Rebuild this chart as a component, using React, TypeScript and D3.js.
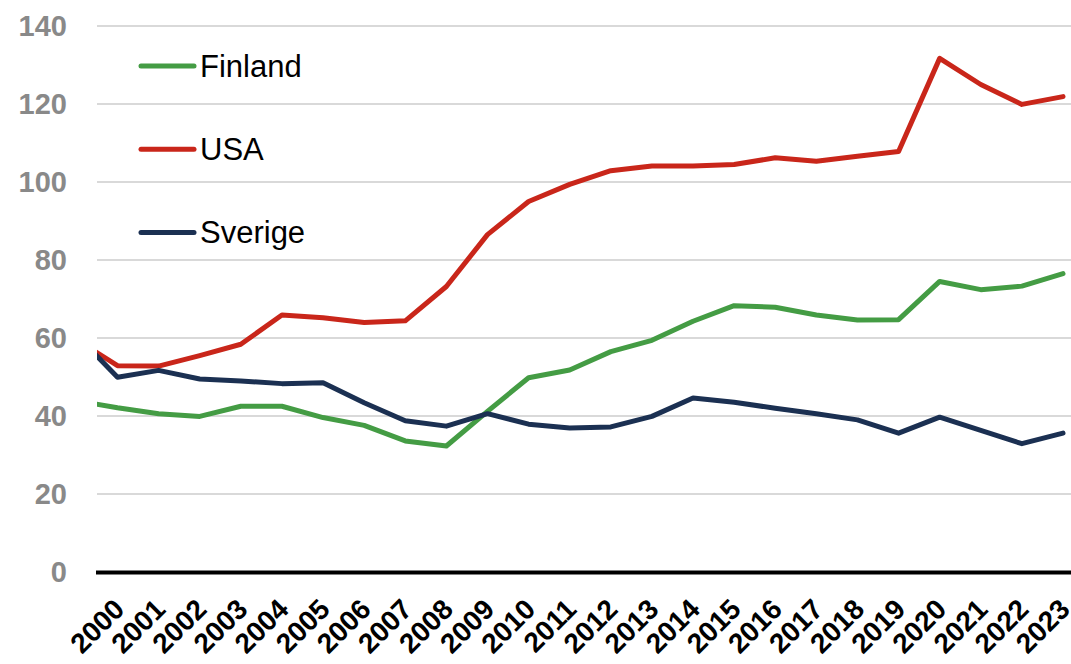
import React from "react";
import * as d3 from "d3";

// Data (1999 is only partially visible: clipped at the plot's left edge)
const years = [1999, 2000, 2001, 2002, 2003, 2004, 2005, 2006, 2007, 2008, 2009, 2010, 2011, 2012, 2013, 2014, 2015, 2016, 2017, 2018, 2019, 2020, 2021, 2022, 2023];
const tickYears = [2000, 2001, 2002, 2003, 2004, 2005, 2006, 2007, 2008, 2009, 2010, 2011, 2012, 2013, 2014, 2015, 2016, 2017, 2018, 2019, 2020, 2021, 2022, 2023];
const finland = [43.9, 42.1, 40.6, 39.9, 42.5, 42.5, 39.6, 37.6, 33.6, 32.3, 41.2, 49.8, 51.8, 56.5, 59.4, 64.3, 68.3, 67.9, 65.9, 64.6, 64.7, 74.5, 72.4, 73.3, 76.5];
const usa = [59.6, 52.9, 52.8, 55.5, 58.4, 65.9, 65.2, 64.0, 64.4, 73.2, 86.5, 95.0, 99.4, 102.9, 104.1, 104.1, 104.5, 106.2, 105.3, 106.6, 107.8, 131.7, 125.0, 119.9, 121.9];
const sverige = [60.8, 49.95, 51.7, 49.5, 49.0, 48.3, 48.5, 43.4, 38.8, 37.4, 40.6, 37.9, 36.9, 37.2, 39.9, 44.6, 43.5, 42.0, 40.6, 39.0, 35.6, 39.7, 36.3, 32.9, 35.6];
const yTicks = [0, 20, 40, 60, 80, 100, 120, 140];

const seriesNames = ["Finland", "USA", "Sverige"];
const seriesValues = [finland, usa, sverige];
const seriesColors = ["#449c44", "#c9261a", "#1b3052"];

const W = 1071;
const H = 664;
const plotLeft = 97;
const plotRight = 1071;

export default function App() {
  const x = d3.scaleLinear().domain([2000, 2023]).range([117.5, 1063]);
  const y = d3.scaleLinear().domain([0, 140]).range([572, 26]);

  const line = d3
    .line<number>()
    .x((_, i) => x(years[i]))
    .y((d) => y(d));

  const font = "'Liberation Sans', Arial, sans-serif";

  return (
    <svg
      width={W}
      height={H}
      style={{ position: "absolute", left: 0, top: 0, background: "#fff" }}
      fontFamily={font}
    >
      <defs>
        <clipPath id="plotClip">
          <rect x={plotLeft} y={0} width={plotRight - plotLeft} height={H} />
        </clipPath>
      </defs>

      {/* gridlines */}
      {yTicks.filter((t) => t > 0).map((t) => (
        <line
          key={"g" + t}
          x1={plotLeft}
          x2={plotRight}
          y1={y(t)}
          y2={y(t)}
          stroke="#d9d9d9"
          strokeWidth={2}
        />
      ))}

      {/* y tick labels */}
      {yTicks.map((t) => (
        <text
          key={"yt" + t}
          x={67}
          y={y(t)}
          dy="0.36em"
          textAnchor="end"
          fontSize={29}
          fontWeight="bold"
          fill="#898989"
        >
          {t}
        </text>
      ))}

      {/* series lines */}
      <g clipPath="url(#plotClip)">
        {seriesValues.map((vals, k) => (
          <path
            key={"s" + k}
            d={line(vals) || ""}
            fill="none"
            stroke={seriesColors[k]}
            strokeWidth={5}
            strokeLinejoin="round"
            strokeLinecap="round"
          />
        ))}
      </g>

      {/* x axis line */}
      <line x1={96} x2={1071} y1={y(0) + 0.5} y2={y(0) + 0.5} stroke="#000" strokeWidth={4} />

      {/* x tick labels */}
      {tickYears.map((yr) => (
        <text
          key={"xt" + yr}
          transform={`translate(${x(yr) + 1.5},${604}) rotate(-45)`}
          dy="0.35em"
          textAnchor="end"
          fontSize={28}
          fontWeight="bold"
          fill="#000"
        >
          {yr}
        </text>
      ))}

      {/* legend */}
      {seriesNames.map((name, k) => {
        const ly = 66 + k * 83.3;
        return (
          <g key={"l" + name}>
            <line
              x1={141}
              x2={194}
              y1={ly}
              y2={ly}
              stroke={seriesColors[k]}
              strokeWidth={5}
              strokeLinecap="round"
            />
            <text x={200} y={ly} dy="0.35em" fontSize={31} fill="#000">
              {name}
            </text>
          </g>
        );
      })}
    </svg>
  );
}
